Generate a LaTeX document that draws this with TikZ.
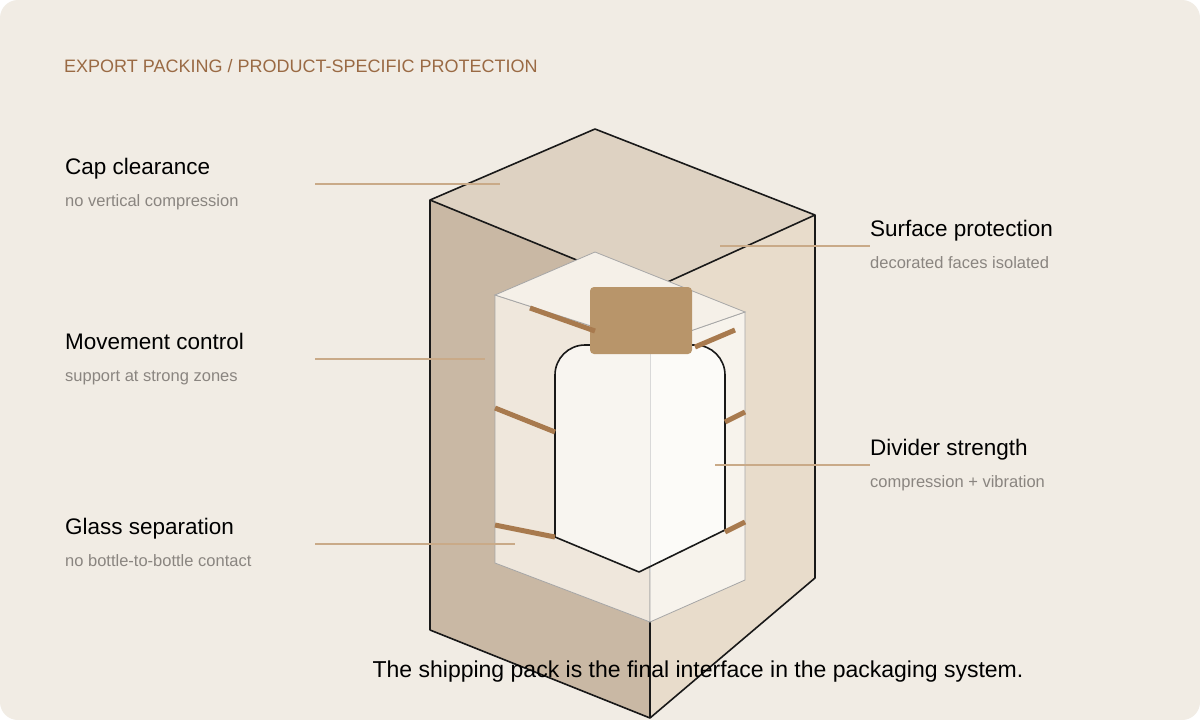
\documentclass[tikz,border=0pt]{standalone}
\usepackage{fontspec}
\setmainfont{Liberation Sans}
\usetikzlibrary{positioning}

\definecolor{bgc}{HTML}{F1ECE4}
\definecolor{outL}{HTML}{C9B8A4}
\definecolor{outR}{HTML}{E8DCCB}
\definecolor{outT}{HTML}{DED2C2}
\definecolor{inL}{HTML}{EFE7DC}
\definecolor{inR}{HTML}{F7F3EC}
\definecolor{inT}{HTML}{F5F0E8}
\definecolor{capc}{HTML}{B8956A}
\definecolor{strapc}{HTML}{A87A4E}
\definecolor{leadc}{HTML}{C9AA88}
\definecolor{titlec}{HTML}{9A6A44}
\definecolor{subc}{HTML}{8A8580}
\definecolor{btlL}{HTML}{F8F5F0}
\definecolor{btlR}{HTML}{FCFBF8}

\tikzset{
  head/.style={anchor=base west, font=\fontsize{22.5}{26}\selectfont, text=black, inner sep=0},
  sub/.style={anchor=base west, font=\fontsize{16.5}{19}\selectfont, text=subc, inner sep=0},
  leader/.style={leadc, line width=1.2pt},
  strap/.style={strapc, line width=5pt},
  edge/.style={black!90, line width=1.6pt, line join=round},
  inedge/.style={draw=black!35, line width=0.8pt}
}

\def\bottlepath{(639,572) -- (555,537) -- (555,420) {[rounded corners=30pt] -- (555,345) -- (725,345) -- (725,420)} -- (725,530) -- cycle}

\begin{document}
\begin{tikzpicture}[x=1pt,y=-1pt]
    \useasboundingbox (0,0) rectangle (1200,720);
    \fill[white] (0,0) rectangle (1200,720);
    \fill[bgc, rounded corners=18pt] (0,0) rectangle (1200,720);

    % title
    \node[anchor=base west, inner sep=0, text=titlec, font=\fontsize{18}{21}\selectfont] (title) at (64,72) {EXPORT PACKING / PRODUCT-SPECIFIC PROTECTION};

    % outer carton
    \fill[outL] (430,200) -- (650,290) -- (650,718) -- (430,630) -- cycle;
    \fill[outR] (650,290) -- (815,215) -- (815,578) -- (650,718) -- cycle;
    \fill[outT] (430,200) -- (595,129) -- (815,215) -- (650,290) -- cycle;
    \draw[edge] (430,630) -- (430,200) -- (595,129) -- (815,215) -- (815,578) -- (650,718) -- (430,630);
    \draw[edge] (430,200) -- (650,290) -- (815,215);
    \draw[edge] (650,290) -- (650,718);

    % inner divider
    \filldraw[fill=inL, inedge] (495,295) -- (650,345) -- (650,622) -- (495,563) -- cycle;
    \filldraw[fill=inR, inedge] (650,345) -- (745,312) -- (745,580) -- (650,622) -- cycle;
    \filldraw[fill=inT, inedge] (495,295) -- (595,252) -- (745,312) -- (650,345) -- cycle;

    % bottle
    \begin{scope}
      \clip \bottlepath;
      \fill[btlL] (540,330) rectangle (650,590);
      \fill[btlR] (650,330) rectangle (740,590);
    \end{scope}
    \draw[black!15, line width=1pt] (650,325) -- (650,572);
    \draw[edge] \bottlepath;

    % cap
    \fill[capc, rounded corners=4pt] (590,287) rectangle (692,354);

    % straps
    \draw[strap] (530,308) -- (595,331);
    \draw[strap] (695,347) -- (735,330);
    \draw[strap] (495,408) -- (555,432);
    \draw[strap] (725,422) -- (745,412);
    \draw[strap] (495,525) -- (555,537);
    \draw[strap] (725,532) -- (745,522);

    % labels left
    \node[head] (capH) at (65,174) {Cap clearance};
    \node[sub] (capS) at (65,206) {no vertical compression};
    \node[head] (moveH) at (65,349) {Movement control};
    \node[sub] (moveS) at (65,381) {support at strong zones};
    \node[head] (glassH) at (65,534) {Glass separation};
    \node[sub] (glassS) at (65,566) {no bottle-to-bottle contact};
    % labels right
    \node[head] (surfH) at (870,236) {Surface protection};
    \node[sub] (surfS) at (870,268) {decorated faces isolated};
    \node[head] (divH) at (870,455) {Divider strength};
    \node[sub] (divS) at (870,487) {compression + vibration};

    % leaders
    \coordinate (capP) at (500,184);
    \coordinate (moveP) at (485,359);
    \coordinate (glassP) at (515,544);
    \coordinate (surfP) at (720,246);
    \coordinate (divP) at (715,465);
    \draw[leader] (315,184) -- (capP);
    \draw[leader] (315,359) -- (moveP);
    \draw[leader] (315,544) -- (glassP);
    \draw[leader] (surfP) -- (870,246);
    \draw[leader] (divP) -- (870,465);

    % caption
    \node[anchor=base, inner sep=0, font=\fontsize{23}{26}\selectfont] (caption) at (698,677) {The shipping pack is the final interface in the packaging system.};
\end{tikzpicture}
\end{document}
